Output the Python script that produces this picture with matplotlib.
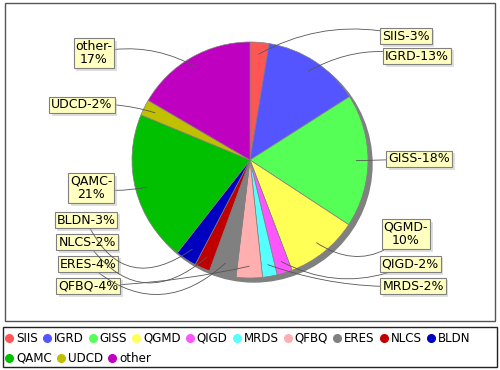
import numpy as np
import matplotlib
matplotlib.use("Agg")
import matplotlib.pyplot as plt
from matplotlib.patches import Circle, Rectangle
import matplotlib.patheffects as pe

categories = ["SIIS", "IGRD", "GISS", "QGMD", "QIGD", "MRDS", "QFBQ",
              "ERES", "NLCS", "BLDN", "QAMC", "UDCD", "other"]
shares = [2.6, 13.4, 18.3, 10.0, 2.1, 2.0, 3.6, 3.7, 2.1, 2.9, 20.7, 2.2, 16.6]
colors = ["#FF5555", "#5555FF", "#55FF55", "#FFFF55", "#FF55FF", "#55FFFF",
          "#FFAFAF", "#808080", "#C00000", "#0000C0", "#00C000", "#C0C000",
          "#C000C0"]
wrapped = {"QGMD", "QAMC", "other"}

# label box centres, pixels from top-left
label_pos = [(406, 36), (417, 56), (419, 159), (406, 234), (410, 264),
             (413, 286), (88, 286), (88, 264), (87, 242), (86, 220),
             (91, 188), (82, 105), (94, 53)]
curve_rad = [0.2, 0.2, 0.0, -0.4, -0.25, -0.1, 0.05, 0.45, 0.55, 0.6,
             0.1, -0.1, -0.2]

W, H = 500, 370
fig = plt.figure(figsize=(5, 3.7), dpi=100)
ax = fig.add_axes([0, 0, 1, 1])

cx, cy, R = 250, H - 160, 118
ax.add_patch(Circle((cx + 4, cy - 4), R, color="#808080", zorder=1))
wedges, _ = ax.pie(shares, colors=colors, center=(cx, cy), radius=R,
                   startangle=90, counterclock=False,
                   wedgeprops=dict(edgecolor="#808080", linewidth=0.5, zorder=2),
                   frame=True)
ax.set_xlim(0, W)
ax.set_ylim(0, H)
ax.set_aspect("equal")
ax.axis("off")

# plot area and legend frames
ax.add_patch(Rectangle((5, H - 321), 490, 318, fill=False, ec="#555555", lw=1))
ax.add_patch(Rectangle((3, H - 367), 494, 40, fill=False, ec="#222222", lw=1))

for w, name, val, (lx, ly), rad in zip(wedges, categories, shares, label_pos, curve_rad):
    mid = np.deg2rad((w.theta1 + w.theta2) / 2)
    anchor = (cx + 0.9 * R * np.cos(mid), cy + 0.9 * R * np.sin(mid))
    sep = "-\n" if name in wrapped else "-"
    txt = f"{name}{sep}{val:.0f}%"
    t = ax.annotate(txt, xy=anchor, xytext=(lx, H - ly), ha="center", va="center",
                    fontsize=9, linespacing=1.0, zorder=5,
                    bbox=dict(boxstyle="square,pad=0.15", fc="#FFFFC0", ec="#808080", lw=0.8),
                    arrowprops=dict(arrowstyle="-", color="#555555", lw=0.6,
                                    connectionstyle=f"arc3,rad={rad}",
                                    shrinkA=0, shrinkB=0))
    t.get_bbox_patch().set_path_effects([
        pe.SimplePatchShadow(offset=(2, -2), shadow_rgbFace="#b0b0b0", alpha=0.4),
        pe.Normal()])

# legend, laid out like flowing text
renderer = fig.canvas.get_renderer()
x, row_y = 9, H - 338
for name, col in zip(categories, colors):
    t = ax.text(x + 7, row_y, name, fontsize=8.6, va="center", ha="left")
    tw = t.get_window_extent(renderer).width
    if x + 7 + tw > 494:
        x, row_y = 9, row_y - 20
        t.set_position((x + 7, row_y))
    ax.plot([x], [row_y], marker="o", ms=5.5, color=col, mec=col, ls="none")
    x = x + 7 + tw + 9

fig.savefig("out.png", dpi=100)
